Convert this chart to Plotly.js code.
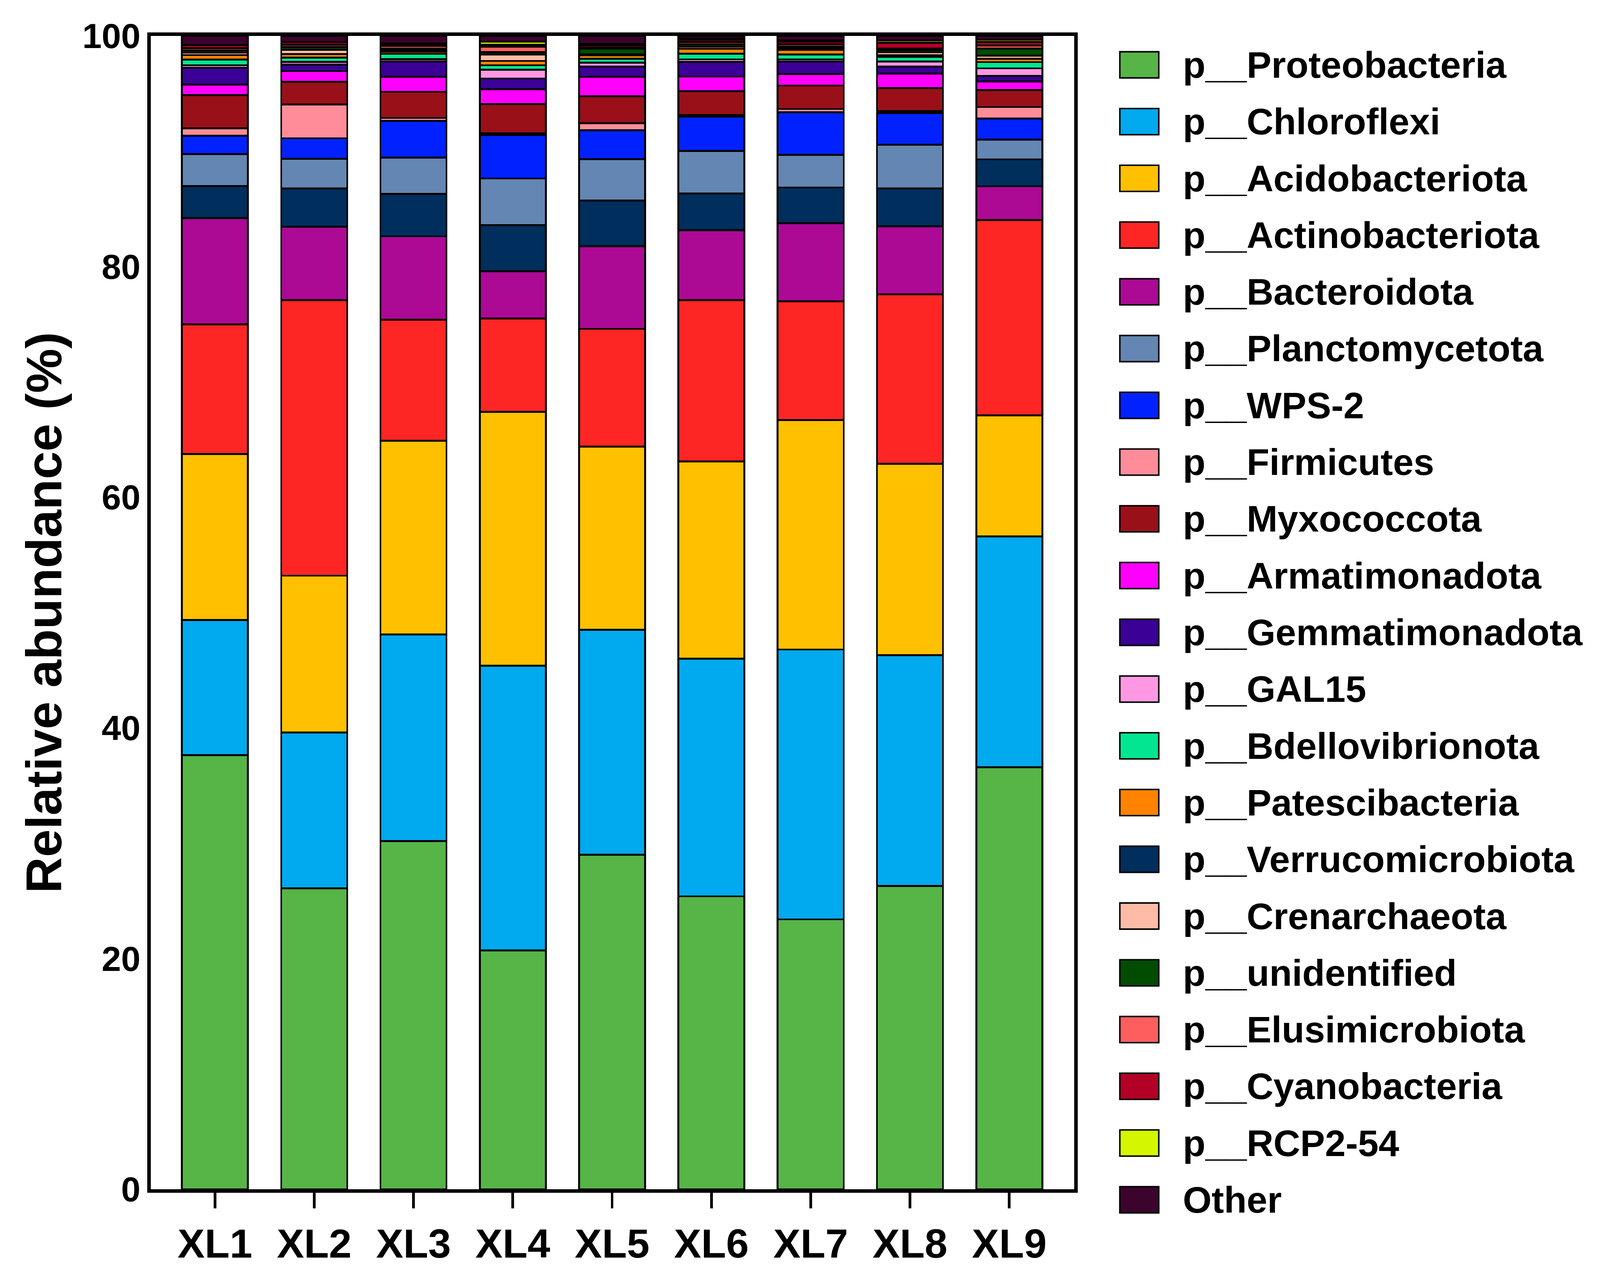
<!DOCTYPE html>
<html>
<head>
<meta charset="utf-8">
<script src="https://cdn.plot.ly/plotly-3.0.1.min.js"></script>
<style>html,body{margin:0;padding:0;background:#ffffff;overflow:hidden;}</style>
</head>
<body>
<div id="chart"></div>
<script>
// ---------------- DATA ----------------
const samples = ['XL1', 'XL2', 'XL3', 'XL4', 'XL5', 'XL6', 'XL7', 'XL8', 'XL9'];

const proteobacteria    = [37.65, 26.10, 30.20, 20.70, 29.00, 25.40, 23.40, 26.30, 36.60];
const chloroflexi       = [11.71, 13.50, 17.90, 24.70, 19.50, 20.60, 23.40, 20.00, 20.00];
const acidobacteriota   = [14.39, 13.60, 16.80, 22.00, 15.90, 17.10, 19.90, 16.60, 10.50];
const actinobacteriota  = [11.25, 23.90, 10.50,  8.10, 10.20, 14.00, 10.30, 14.70, 16.93];
const bacteroidota      = [ 9.20,  6.35,  7.23,  4.10,  7.17,  6.06,  6.76,  5.89,  2.93];
const verrucomicrobiota = [ 2.77,  3.32,  3.68,  4.00,  3.95,  3.17,  3.10,  3.28,  2.34];
const planctomycetota   = [ 2.78,  2.59,  3.14,  4.04,  3.60,  3.70,  2.84,  3.80,  1.71];
const wps2              = [ 1.59,  1.77,  3.18,  3.77,  2.51,  2.97,  3.68,  2.75,  1.82];
const firmicutes        = [ 0.66,  2.92,  0.26,  0.15,  0.60,  0.13,  0.29,  0.17,  1.01];
const myxococcota       = [ 2.88,  1.96,  2.27,  2.53,  2.33,  2.07,  2.03,  1.98,  1.46];
const armatimonadota    = [ 0.91,  0.94,  1.29,  1.30,  1.69,  1.28,  1.01,  1.25,  0.75];
const gemmatimonadota   = [ 1.45,  0.57,  1.32,  0.92,  0.90,  1.27,  1.06,  0.62,  0.49];
const gal15             = [ 0.22,  0.23,  0.22,  0.75,  0.34,  0.22,  0.20,  0.44,  0.65];
const bdellovibrionota  = [ 0.48,  0.36,  0.45,  0.40,  0.33,  0.49,  0.43,  0.41,  0.54];
const patescibacteria   = [ 0.40,  0.31,  0.18,  0.37,  0.31,  0.42,  0.41,  0.15,  0.29];
const crenarchaeota     = [ 0.20,  0.39,  0.15,  0.57,  0.08,  0.20,  0.12,  0.24,  0.28];
const unidentified      = [ 0.20,  0.22,  0.15,  0.19,  0.47,  0.20,  0.14,  0.19,  0.59];
const elusimicrobiota   = [ 0.20,  0.21,  0.20,  0.47,  0.10,  0.20,  0.20,  0.14,  0.27];
const cyanobacteria     = [ 0.25,  0.22,  0.15,  0.19,  0.18,  0.20,  0.25,  0.50,  0.31];
const rcp2_54           = [ 0.02,  0.02,  0.07,  0.25,  0.16,  0.10,  0.10,  0.19,  0.21];
const other             = [ 0.79,  0.52,  0.66,  0.50,  0.68,  0.22,  0.38,  0.40,  0.32];

const yTickValues = [0, 20, 40, 60, 80, 100];
const yTickLabels = ['0', '20', '40', '60', '80', '100'];

// stacking order (bottom -> top)
const stackSeries = [
  {name: 'p__Proteobacteria',    values: proteobacteria,    color: '#57B447'},
  {name: 'p__Chloroflexi',       values: chloroflexi,       color: '#01A9EE'},
  {name: 'p__Acidobacteriota',   values: acidobacteriota,   color: '#FFC000'},
  {name: 'p__Actinobacteriota',  values: actinobacteriota,  color: '#FE2624'},
  {name: 'p__Bacteroidota',      values: bacteroidota,      color: '#AC0995'},
  {name: 'p__Verrucomicrobiota', values: verrucomicrobiota, color: '#002E5D'},
  {name: 'p__Planctomycetota',   values: planctomycetota,   color: '#6486B2'},
  {name: 'p__WPS-2',             values: wps2,              color: '#0122FE'},
  {name: 'p__Firmicutes',        values: firmicutes,        color: '#FF8D99'},
  {name: 'p__Myxococcota',       values: myxococcota,       color: '#991019'},
  {name: 'p__Armatimonadota',    values: armatimonadota,    color: '#FF00FF'},
  {name: 'p__Gemmatimonadota',   values: gemmatimonadota,   color: '#3B0096'},
  {name: 'p__GAL15',             values: gal15,             color: '#FE98E2'},
  {name: 'p__Bdellovibrionota',  values: bdellovibrionota,  color: '#02E68F'},
  {name: 'p__Patescibacteria',   values: patescibacteria,   color: '#FF8300'},
  {name: 'p__Crenarchaeota',     values: crenarchaeota,     color: '#FFBBA6'},
  {name: 'p__unidentified',      values: unidentified,      color: '#004D00'},
  {name: 'p__Elusimicrobiota',   values: elusimicrobiota,   color: '#FF5E5E'},
  {name: 'p__Cyanobacteria',     values: cyanobacteria,     color: '#B20026'},
  {name: 'p__RCP2-54',           values: rcp2_54,           color: '#D4F700'},
  {name: 'Other',                values: other,             color: '#3C042D'}
];

// legend order (top -> bottom)
const legendOrder = [
  'p__Proteobacteria', 'p__Chloroflexi', 'p__Acidobacteriota', 'p__Actinobacteriota',
  'p__Bacteroidota', 'p__Planctomycetota', 'p__WPS-2', 'p__Firmicutes', 'p__Myxococcota',
  'p__Armatimonadota', 'p__Gemmatimonadota', 'p__GAL15', 'p__Bdellovibrionota',
  'p__Patescibacteria', 'p__Verrucomicrobiota', 'p__Crenarchaeota', 'p__unidentified',
  'p__Elusimicrobiota', 'p__Cyanobacteria', 'p__RCP2-54', 'Other'
];

// ---------------- LAYOUT ----------------
const REF_W = 4315, REF_H = 3262;
const vw = window.innerWidth || REF_W;
const vh = window.innerHeight || REF_H;
const W = Math.min(vw, REF_W), H = Math.min(vh, REF_H);
const sx = W / REF_W, sy = H / REF_H;
const fs = Math.min(sx, sy);
document.getElementById('chart').style.width = W + 'px';
document.getElementById('chart').style.height = H + 'px';

const PL = 407 * sx, PR = 2897 * sx, PT = 92 * sy, PB = 3045 * sy;
const PW = PR - PL, PH = PB - PT;
const FONT = 'Liberation Sans, Arial, Helvetica, sans-serif';

const traces = stackSeries.map(s => ({
  type: 'bar',
  name: s.name,
  x: samples,
  y: s.values,
  marker: {color: s.color, line: {color: '#000000', width: 5 * fs}},
  showlegend: false,
  hoverinfo: 'name+y'
}));

// custom legend with large swatches (positions in reference pixels)
const px2x = px => (px * sx - PL) / PW;
const px2y = py => (PB - py * sy) / PH;
const shapes = [];
const annotations = [];
const legFirst = 166, legStep = 145.3, swH = 67;
legendOrder.forEach((nm, i) => {
  const s = stackSeries.find(t => t.name === nm);
  const cy = legFirst + legStep * i;
  shapes.push({
    type: 'rect', xref: 'paper', yref: 'paper',
    x0: px2x(3020), x1: px2x(3125),
    y0: px2y(cy + swH / 2), y1: px2y(cy - swH / 2),
    fillcolor: s.color, line: {color: '#000000', width: 4 * fs}, layer: 'above'
  });
  annotations.push({
    xref: 'paper', yref: 'paper', x: px2x(3188), y: px2y(cy),
    xanchor: 'left', yanchor: 'middle', showarrow: false,
    text: nm, font: {family: FONT, size: 100 * fs, color: '#000000', weight: 'bold'}
  });
});

const layout = {
  width: W, height: H,
  margin: {l: PL, r: W - PR, t: PT, b: H - PB, pad: 0},
  paper_bgcolor: '#ffffff', plot_bgcolor: '#ffffff',
  barmode: 'stack',
  bargap: 0.335,
  showlegend: false,
  font: {family: FONT, color: '#000000', weight: 'bold'},
  xaxis: {
    type: 'category',
    range: [-0.646, 8.654],
    showline: true, linecolor: '#000000', linewidth: 10 * fs, mirror: true,
    ticks: 'outside', ticklen: 40 * sy, tickwidth: 7 * fs, tickcolor: '#000000',
    tickfont: {family: FONT, size: 110 * fs, color: '#000000', weight: 'bold'},
    showgrid: false, zeroline: false, fixedrange: true
  },
  yaxis: {
    range: [0, 100],
    tickmode: 'array', tickvals: yTickValues, ticktext: yTickLabels,
    showline: true, linecolor: '#000000', linewidth: 9 * fs, mirror: true,
    ticks: '', ticklabelstandoff: 0,
    tickfont: {family: FONT, size: 94 * fs, color: '#000000', weight: 'bold'},
    title: {text: 'Relative abundance (%)', standoff: 14 * sx,
            font: {family: FONT, size: 128 * sy, color: '#000000', weight: 'bold'}},
    showgrid: false, zeroline: false, fixedrange: true
  },
  shapes: shapes,
  annotations: annotations
};

Plotly.newPlot('chart', traces, layout, {staticPlot: true, displayModeBar: false});
</script>
</body>
</html>
